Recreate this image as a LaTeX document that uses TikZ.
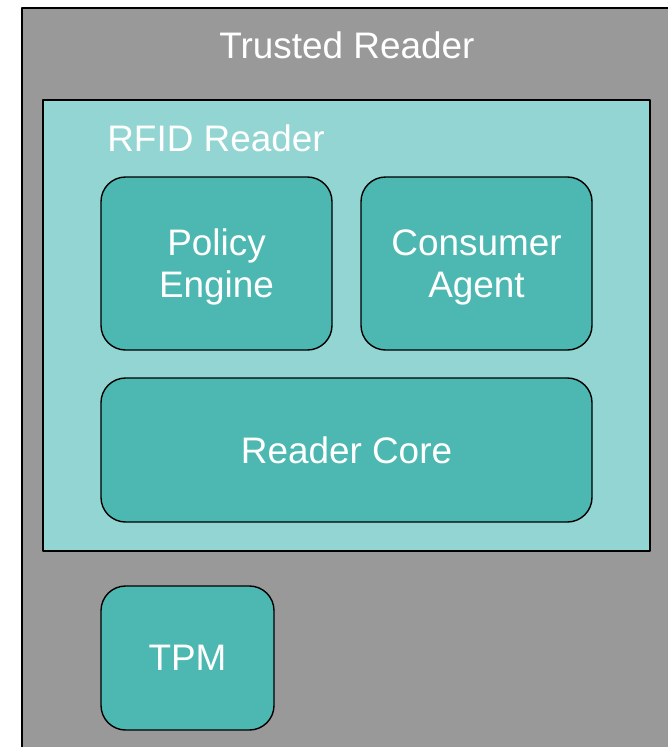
\documentclass[tikz,border=0pt]{standalone}
\usepackage{fontspec}
\setmainfont{Liberation Sans}
\definecolor{readergray}{RGB}{153,153,153}
\definecolor{rfidteal}{RGB}{147,213,210}
\definecolor{partteal}{RGB}{77,184,178}
\begin{document}
\begin{tikzpicture}[x=0.2mm,y=-0.2mm, line join=round,
	font=\fontsize{21}{24}\selectfont,
	part/.style={draw, line width=.8pt, fill=partteal, rounded corners=14pt, text=white, align=center, inner sep=0pt},
	holder/.style={draw, line width=.8pt, fill=rfidteal, inner sep=0pt}]
	\useasboundingbox (0,0) rectangle (668,747);
	\clip (0,0) rectangle (668,747);
	% trusted reader
	\draw[line width=.9pt, fill=readergray] (22,8) rectangle (700,790);
	\node[text=white] (trusted) at (347,45) {Trusted Reader};
	% rfid reader
	\node[holder, minimum width=12.14cm, minimum height=9.02cm] (rfid) at (346.5,325.5) {};
	\node[text=white, anchor=west, inner sep=0pt] (rfidlabel) at (107,138) {RFID Reader};
	\node[part, text depth=0pt, minimum width=4.62cm, minimum height=3.46cm] (policy) at (216.5,263.5) {Policy\\Engine};
	\node[part, text depth=0pt, minimum width=4.62cm, minimum height=3.46cm] (consumer) at (476.5,263.5) {Consumer\\Agent};
	\node[part, minimum width=9.82cm, minimum height=2.88cm] (core) at (346.5,450) {Reader Core};
	% tpm
	\node[part, minimum width=3.46cm, minimum height=2.88cm] (tpm) at (187.5,658) {TPM};
\end{tikzpicture}
\end{document}
